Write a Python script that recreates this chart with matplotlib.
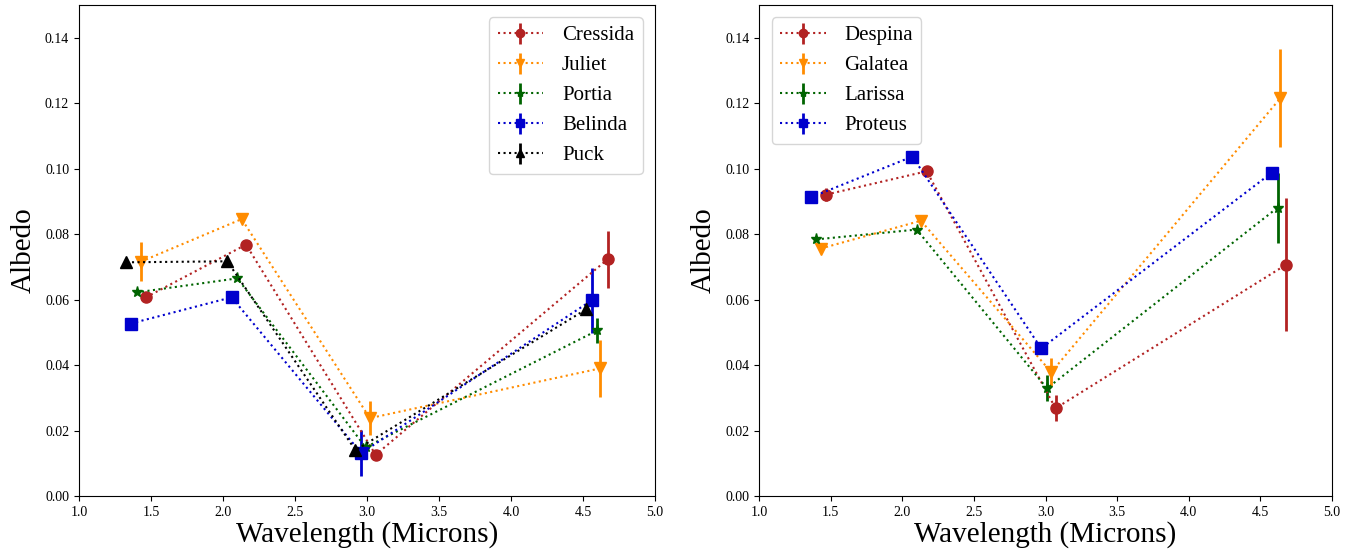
import matplotlib
matplotlib.use("Agg")
import matplotlib.pyplot as plt
import numpy as np

plt.rcParams['font.family'] = ['Liberation Serif', 'DejaVu Serif']

# Uranian satellites (left panel)
uranus_names = ["Cressida", "Juliet", "Portia", "Belinda", "Puck"]
uranus_wl = [
    [1.465, 2.16, 3.06, 4.67],
    [1.43, 2.13, 3.02, 4.62],
    [1.40, 2.10, 2.99, 4.60],
    [1.36, 2.06, 2.96, 4.56],
    [1.33, 2.03, 2.92, 4.52],
]
uranus_alb = [
    [0.0607, 0.0768, 0.0126, 0.0723],
    [0.0716, 0.0846, 0.0238, 0.0390],
    [0.0622, 0.0665, 0.0149, 0.0506],
    [0.0527, 0.0607, 0.0131, 0.0598],
    [0.0714, 0.0717, 0.0140, 0.0570],
]
uranus_err = [
    [0.0, 0.0, 0.0, 0.0088],
    [0.0059, 0.0, 0.0053, 0.0088],
    [0.0, 0.0, 0.0, 0.0037],
    [0.0, 0.0, 0.0070, 0.0100],
    [0.0, 0.0, 0.0, 0.0],
]

# Neptunian satellites (right panel)
neptune_names = ["Despina", "Galatea", "Larissa", "Proteus"]
neptune_wl = [
    [1.47, 2.17, 3.07, 4.68],
    [1.43, 2.13, 3.04, 4.64],
    [1.40, 2.10, 3.01, 4.62],
    [1.36, 2.07, 2.97, 4.58],
]
neptune_alb = [
    [0.0921, 0.0992, 0.0268, 0.0707],
    [0.0756, 0.0841, 0.0378, 0.1216],
    [0.0784, 0.0814, 0.0329, 0.0881],
    [0.0912, 0.1037, 0.0451, 0.0988],
]
neptune_err = [
    [0.0020, 0.0, 0.0040, 0.0203],
    [0.0, 0.0, 0.0043, 0.0150],
    [0.0, 0.0, 0.0040, 0.0107],
    [0.0, 0.0, 0.0, 0.0],
]

colors = ["firebrick", "darkorange", "darkgreen", "mediumblue", "black"]
markers = ["o", "v", "*", "s", "^"]


def panel(ax, names, wl, alb, err, loc):
    for i, name in enumerate(names):
        ax.errorbar(wl[i], alb[i], yerr=err[i], color=colors[i],
                    marker=markers[i], linestyle=":", markersize=8,
                    elinewidth=2, capsize=0, label=name)
    ax.set_xlim(1.0, 5.0)
    ax.set_ylim(0.0, 0.15)
    ax.set_xticks(np.arange(1.0, 5.01, 0.5))
    ax.set_yticks(np.arange(0.0, 0.141, 0.02))
    ax.tick_params(labelsize=10)
    ax.set_xlabel("Wavelength (Microns)", fontsize=21, labelpad=2)
    ax.set_ylabel("Albedo", fontsize=21, labelpad=6)
    ax.legend(loc=loc, fontsize=15, handlelength=2.2, markerscale=0.75,
              labelspacing=0.5, handletextpad=0.9, borderaxespad=0.6)


fig = plt.figure(figsize=(13.54, 5.53), dpi=100)
ax1 = fig.add_axes([0.0583, 0.103, 0.4255, 0.888])
ax2 = fig.add_axes([0.5606, 0.103, 0.4232, 0.888])

panel(ax1, uranus_names, uranus_wl, uranus_alb, uranus_err, "upper right")
panel(ax2, neptune_names, neptune_wl, neptune_alb, neptune_err, "upper left")

fig.savefig("out.png", dpi=100)
